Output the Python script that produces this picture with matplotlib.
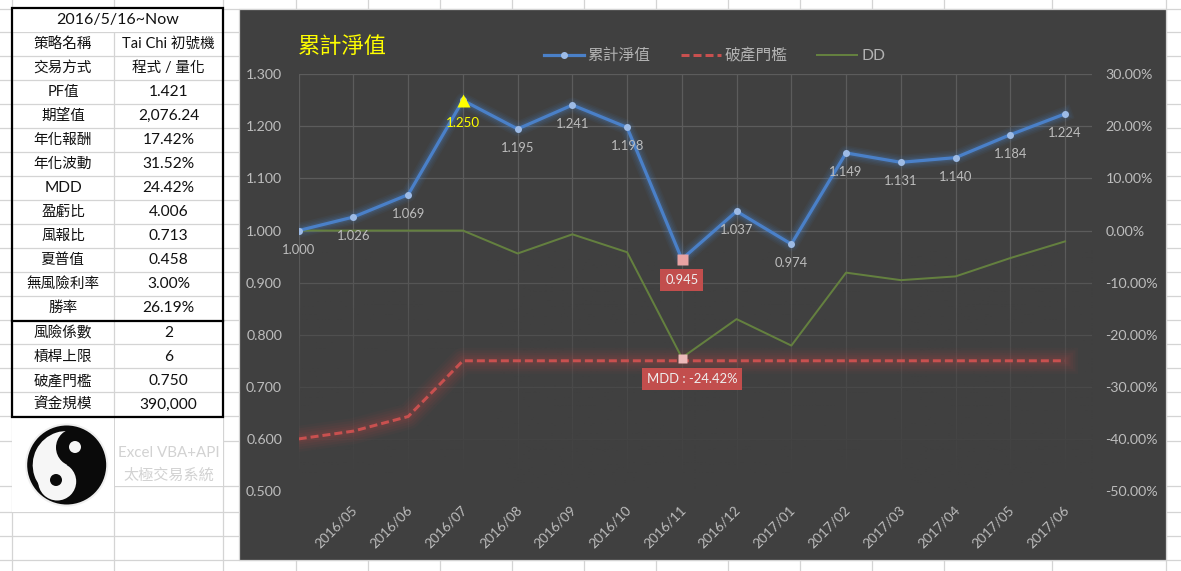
import numpy as np
import matplotlib
matplotlib.use("Agg")
import matplotlib.pyplot as plt
from matplotlib.patches import Rectangle, Circle, Wedge
from matplotlib.transforms import ScaledTranslation

FONT = ['Lato', 'Noto Sans CJK TC', 'DejaVu Sans']
plt.rcParams['font.family'] = FONT

# ---------- data ----------
months = ['', '2016/05', '2016/06', '2016/07', '2016/08', '2016/09', '2016/10', '2016/11',
          '2016/12', '2017/01', '2017/02', '2017/03', '2017/04', '2017/05', '2017/06']
nav = [1.000, 1.026, 1.069, 1.250, 1.195, 1.241, 1.198, 0.945,
       1.037, 0.974, 1.149, 1.131, 1.140, 1.184, 1.224]
ruin = [0.600, 0.615, 0.643, 0.750, 0.750, 0.750, 0.750, 0.750,
        0.750, 0.750, 0.750, 0.750, 0.750, 0.750, 0.750]
dd = [0.0, 0.0, 0.0, 0.0, -0.044, -0.0072, -0.0416, -0.2442,
      -0.170, -0.2208, -0.0808, -0.0952, -0.088, -0.0528, -0.0208]
left_ticks = [0.5, 0.6, 0.7, 0.8, 0.9, 1.0, 1.1, 1.2, 1.3]
right_ticks = [-0.5, -0.4, -0.3, -0.2, -0.1, 0.0, 0.1, 0.2, 0.3]
table_title = '2016/5/16~Now'
table_labels = ['策略名稱', '交易方式', 'PF值', '期望值', '年化報酬', '年化波動', 'MDD', '盈虧比',
                '風報比', '夏普值', '無風險利率', '勝率', '風險係數', '槓桿上限', '破產門檻', '資金規模']
table_values = ['Tai Chi 初號機', '程式 / 量化', '1.421', '2,076.24', '17.42%', '31.52%', '24.42%', '4.006',
                '0.713', '0.458', '3.00%', '26.19%', '2', '6', '0.750', '390,000']

# ---------- colours ----------
BG = '#404040'
GRID = '#5c5c5c'
TXT = '#bdbdbd'
BLUE = '#4a80c8'
RED = '#c8504f'
GREEN = '#64803f'
SHEET = '#d4d4d4'

fig = plt.figure(figsize=(11.81, 5.71), dpi=100, facecolor='white')
W, H = 1181, 571


def cell_size(s):
    return 11.2 if s.isascii() else 10.5


# ---------- spreadsheet backdrop, in pixel coordinates ----------
bg = fig.add_axes([0, 0, 1, 1], zorder=0)
bg.set_xlim(0, W)
bg.set_ylim(H, 0)
bg.axis('off')

for y in list(range(32, 417, 24)) + [441, 486, 512, 536, 560]:
    bg.plot([0, W], [y, y], color=SHEET, lw=0.9, zorder=1)
for x in [11.5, 114, 223, 295.7, 367.7, 439.7, 511.7, 583.7, 655.7, 727.7, 799.7, 871.7, 943.7, 1052, 1166]:
    bg.plot([x, x], [0, H], color=SHEET, lw=0.9, zorder=1)
bg.plot([0, W], [8.5, 8.5], color=SHEET, lw=0.9, zorder=1)

# merged cell and title cell blanks
bg.add_patch(Rectangle((114.5, 417.5), 108, 68, fc='white', ec='none', zorder=2))
bg.add_patch(Rectangle((12, 417.5), 102, 94, fc='white', ec='none', zorder=2))
bg.add_patch(Rectangle((12, 9), 210.5, 22.5, fc='white', ec='none', zorder=2))

# chart panel
bg.add_patch(Rectangle((239, 9), 927, 551, fc=BG, ec=SHEET, lw=0.9, zorder=3))

# table frame
bg.add_patch(Rectangle((11.5, 8), 211.5, 409, fc='none', ec='black', lw=1.6, zorder=4))
bg.plot([11.5, 223], [321, 321], color='black', lw=1.6, zorder=4)

bg.text(118, 20, table_title, ha='center', va='center', fontsize=11.5, color='#111111', zorder=5)
row_y = [44, 68, 92, 116, 140, 164, 188, 212, 236, 260, 284, 308, 333, 357, 381, 405]
for y, lab, val in zip(row_y, table_labels, table_values):
    bg.text(63, y, lab, ha='center', va='center', fontsize=cell_size(lab), color='#111111', zorder=5)
    bg.text(168.5, y, val, ha='center', va='center', fontsize=cell_size(val), color='#111111', zorder=5)

# yin-yang picture
cx, cy = 66.7, 465.0
bg.add_patch(Circle((cx, cy), 41.5, fc='#efefef', ec='none', zorder=5))
bg.add_patch(Circle((cx, cy), 39.5, fc='#0a0a0a', ec='none', zorder=6))
bg.add_patch(Wedge((cx, cy), 34, -243, -63, fc='#f6f6f6', ec='none', zorder=7))
bg.add_patch(Circle((cx - 9.5, cy + 16.5), 19, fc='#f6f6f6', ec='none', zorder=8))
bg.add_patch(Circle((cx + 8.3, cy - 17.5), 19, fc='#0a0a0a', ec='none', zorder=8))
bg.add_patch(Circle((75, 447), 6, fc='#f6f6f6', ec='none', zorder=9))
bg.add_patch(Circle((56, 480), 6, fc='#0a0a0a', ec='none', zorder=9))

bg.text(169, 453, 'Excel VBA+API', ha='center', va='center', fontsize=10.9, color='#d2d2d2', zorder=5)
bg.text(169, 475, '太極交易系統', ha='center', va='center', fontsize=10.9, color='#d2d2d2', zorder=5)

# chart title
bg.text(298, 46.5, '累計淨值', ha='left', va='center', fontsize=16, color='#ffff00', zorder=5)

# ---------- chart axes ----------
L, R, T, B = 298.7, 1092.4, 74.3, 491.0
ax = fig.add_axes([L / W, 1 - B / H, (R - L) / W, (B - T) / H], zorder=2)
ax.patch.set_visible(False)
for s in ax.spines.values():
    s.set_visible(False)
x = np.arange(len(nav))
ax.set_xlim(0, 14.5)
ax.set_ylim(0.5, 1.3)
ax.set_yticks(left_ticks)
ax.set_yticklabels([f'{v:.3f}' for v in left_ticks])
ax.set_xticks(x)
ax.set_xticklabels(months, rotation=45, ha='right', va='center', rotation_mode='anchor')
ax.tick_params(axis='x', length=0, pad=12, colors=TXT, labelsize=9.8)
ax.tick_params(axis='y', length=0, pad=12, colors=TXT, labelsize=10.2)
for lab in ax.get_xticklabels():
    lab.set_transform(lab.get_transform() + ScaledTranslation(2 / 100, 0, fig.dpi_scale_trans))
ax.grid(True, color=GRID, lw=0.9, zorder=1)
ax.set_axisbelow(True)

# grid lines fade out towards the bottom of the plot
fade = np.zeros((256, 2, 4))
fade[..., :3] = matplotlib.colors.to_rgb(BG)
fy = np.linspace(1, 0, 256)
fade[..., 3] = np.clip((0.58 - fy[:, None]) / (0.58 - 0.03), 0, 1) ** 0.8
ax.imshow(fade, extent=(0, 1, 0, 1), transform=ax.transAxes, aspect='auto', zorder=1.5)
ax.set_xlim(0, 14.5)
ax.set_ylim(0.5, 1.3)

px = 72 / 100  # one pixel, in points

# glows
for w, a in [(26, .04), (21, .05), (16, .06), (11, .07), (7, .07)]:
    ax.plot(x, ruin, color='#d04a4a', lw=w * px, alpha=a, solid_joinstyle='round', zorder=2)
for w, a in [(15, .05), (12, .06), (9, .08), (6, .12)]:
    ax.plot(x, nav, color='#4f93e6', lw=w * px, alpha=a, solid_joinstyle='round', zorder=2.2)

# secondary axis with the drawdown
ax2 = ax.twinx()
ax2.patch.set_visible(False)
for s in ax2.spines.values():
    s.set_visible(False)
ax2.set_ylim(-0.5, 0.3)
ax2.set_yticks(right_ticks)
ax2.set_yticklabels([f'{v * 100:.2f}%' for v in right_ticks])
ax2.tick_params(axis='y', length=0, pad=9.5, colors=TXT, labelsize=10.2)
l_dd, = ax2.plot(x, dd, color=GREEN, lw=2 * px, label='DD', zorder=2)

# main series drawn on the upper axes so they sit above the drawdown line
ax3 = ax.twinx()
ax3.patch.set_visible(False)
for s in ax3.spines.values():
    s.set_visible(False)
ax3.set_ylim(0.5, 1.3)
ax3.set_yticks([])
l_ruin, = ax3.plot(x, ruin, color=RED, lw=3 * px, ls=(0, (2.67, 1.33)), dash_capstyle='butt',
                   label='破產門檻', zorder=2)
l_nav, = ax3.plot(x, nav, color=BLUE, lw=3.2 * px, marker='o', ms=7 * px, mfc='#9dbbe6', mec='none',
                  label='累計淨值', zorder=3)

i_hi = int(np.argmax(nav))
i_lo = int(np.argmin(nav))
ax3.plot(x[i_hi], nav[i_hi], ls='none', marker='^', ms=13 * px, mfc='#ffff00', mec='none', zorder=4)
ax3.plot(x[i_lo], nav[i_lo], ls='none', marker='s', ms=11 * px, mfc='#e8a3a3', mec='none', zorder=4)

for i, (xi, v) in enumerate(zip(x, nav)):
    if i == i_hi:
        ax3.annotate(f'{v:.3f}', (xi, v), xytext=(0, -23), textcoords='offset pixels', ha='center',
                     va='center', fontsize=9.6, color='#ffff00', zorder=5)
    elif i == i_lo:
        ax3.annotate(f'{v:.3f}', (xi, v), xytext=(0, -21), textcoords='offset pixels', ha='center',
                     va='center', fontsize=9.4, color='#eeeeee', zorder=5,
                     bbox=dict(boxstyle='square,pad=0.38', fc='#c24e4d', ec='none'))
    else:
        ax3.annotate(f'{v:.3f}', (xi, v), xytext=(0, -19), textcoords='offset pixels', ha='center',
                     va='center', fontsize=9.4, color=TXT, zorder=5)

# drawdown marker and its label go on top of the threshold line
ax4 = ax.twinx()
ax4.patch.set_visible(False)
for s in ax4.spines.values():
    s.set_visible(False)
ax4.set_ylim(-0.5, 0.3)
ax4.set_yticks([])
i_dd = int(np.argmin(dd))
ax4.plot(x[i_dd], dd[i_dd], ls='none', marker='s', ms=9 * px, mfc='#ecb9b9', mec='none', zorder=4)
ax4.annotate('MDD : -24.42%', (x[i_dd], dd[i_dd]), xytext=(10, -21.5), textcoords='offset pixels',
             ha='center', va='center', fontsize=9.4, color='#eeeeee', zorder=5,
             bbox=dict(boxstyle='square,pad=0.38', fc='#c24e4d', ec='none'))

# legend
fig.legend(handles=[l_nav, l_ruin, l_dd], labels=['累計淨值', '破產門檻', 'DD'], ncol=3, frameon=False,
           loc='center', bbox_to_anchor=(714.5 / W, 1 - 55.5 / H), fontsize=11.3, labelcolor='#b2b2b2',
           handlelength=2.55, handletextpad=0.25, columnspacing=1.9, borderpad=0, borderaxespad=0)

fig.savefig('out.png', dpi=100)
